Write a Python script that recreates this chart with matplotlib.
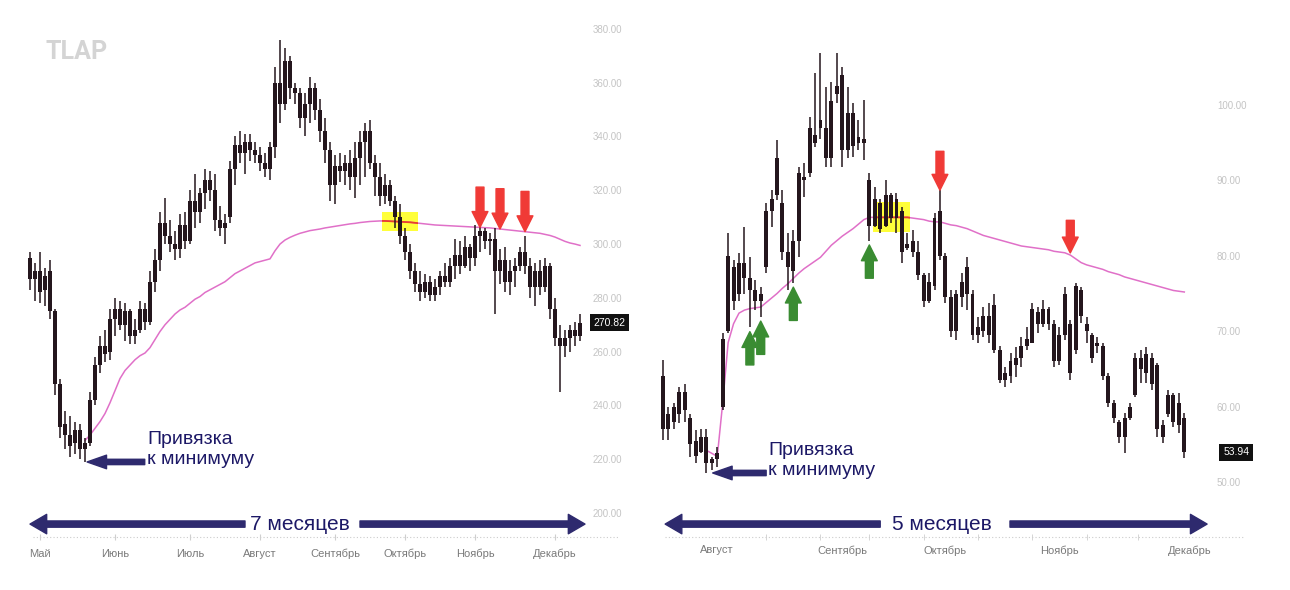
import numpy as np
import matplotlib.pyplot as plt
from matplotlib.patches import Rectangle

plt.rcParams['font.family'] = ['Liberation Sans', 'DejaVu Sans']

# ---- левый график: май - декабрь, дневные свечи ----
left_open = [295, 287, 290, 283, 290, 275, 248, 233, 229, 226,
             231, 224, 226, 242, 255, 262, 260, 272, 276, 270,
             275, 266, 268, 276, 271, 286, 294, 308, 303, 300,
             298, 307, 301, 316, 312, 319, 324, 320, 309, 306,
             310, 328, 337, 334, 338, 335, 333, 330, 328, 336,
             360, 352, 368, 358, 356, 347, 352, 358, 350, 342,
             335, 322, 329, 327, 330, 325, 332, 338, 342, 330,
             325, 318, 322, 316, 310, 303, 297, 290, 285, 282,
             286, 281, 284, 288, 286, 292, 296, 292, 299, 295,
             303, 305, 301, 302, 290, 294, 286, 290, 292, 297,
             292, 284, 290, 284, 292, 276, 265, 262, 265, 268, 266]
left_high = [297, 293, 297, 291, 294, 276, 250, 238, 236, 234,
             233, 228, 245, 258, 266, 268, 276, 280, 279, 278,
             276, 272, 279, 278, 290, 298, 312, 317, 309, 305,
             311, 312, 320, 326, 321, 328, 327, 326, 314, 311,
             331, 340, 342, 341, 341, 338, 336, 334, 338, 366,
             376, 373, 370, 360, 358, 356, 362, 360, 354, 347,
             338, 333, 334, 333, 335, 338, 342, 345, 346, 333,
             330, 326, 324, 318, 315, 306, 300, 293, 290, 289,
             288, 287, 290, 293, 295, 302, 301, 303, 300, 307,
             309, 306, 304, 306, 298, 299, 294, 295, 299, 303,
             295, 293, 294, 295, 293, 280, 270, 268, 270, 271, 274]
left_low = [283, 279, 278, 277, 272, 244, 228, 224, 221, 222,
            220, 219, 225, 240, 252, 256, 257, 266, 268, 264,
            263, 263, 267, 268, 270, 282, 290, 300, 297, 294,
            295, 298, 300, 306, 308, 313, 316, 305, 303, 300,
            308, 322, 330, 326, 331, 330, 327, 325, 324, 332,
            345, 350, 354, 352, 343, 340, 345, 346, 338, 330,
            316, 315, 323, 322, 320, 317, 322, 325, 328, 318,
            314, 315, 314, 306, 300, 294, 287, 282, 279, 280,
            279, 279, 281, 284, 284, 287, 289, 291, 290, 292,
            297, 298, 296, 274, 285, 282, 281, 284, 290, 289,
            280, 277, 281, 282, 272, 262, 245, 258, 260, 262, 264]
left_close = [287, 290, 282, 288, 275, 248, 232, 229, 225, 231,
              224, 226, 242, 255, 262, 259, 272, 276, 270, 275,
              266, 268, 276, 271, 286, 294, 308, 303, 300, 298,
              307, 301, 316, 312, 319, 324, 320, 309, 306, 308,
              328, 337, 334, 338, 335, 333, 330, 328, 336, 360,
              352, 368, 358, 356, 347, 352, 358, 350, 342, 335,
              322, 329, 327, 330, 325, 332, 338, 342, 330, 325,
              318, 322, 316, 310, 303, 297, 290, 285, 282, 286,
              281, 284, 288, 286, 292, 296, 292, 299, 295, 303,
              305, 301, 302, 290, 294, 286, 290, 292, 297, 292,
              284, 290, 284, 292, 276, 265, 262, 265, 268, 266, 270.82]
# VWAP от минимума (начинается со свечи минимума)
left_vwap = [227, 229, 231.5, 234, 237, 241, 245.5, 250, 253, 255,
             257, 258.5, 259.5, 261.5, 264.5, 267.5, 270, 272, 274, 275.5,
             276.5, 278, 279.5, 280.5, 282, 283, 284, 285, 286, 287.5,
             289, 290, 291, 292, 293, 293.5, 294, 294.5, 297.5, 300,
             301.5, 302.5, 303.3, 304, 304.5, 305, 305.3, 305.6, 306, 306.3,
             306.6, 306.9, 307.2, 307.5, 307.7, 308, 308.2, 308.4, 308.5, 308.6,
             308.6, 308.5, 308.4, 308.3, 308.2, 308.1, 307.9, 307.7, 307.5, 307.3,
             307.1, 307, 306.9, 306.8, 306.7, 306.6, 306.5, 306.4, 306.3, 306.2,
             306.1, 306, 305.8, 305.6, 305.4, 305.2, 305, 304.8, 304.6, 304.4,
             304.2, 304, 303.6, 303.2, 302.6, 301.8, 301, 300.4, 300, 299.5]
left_months = ['Май', 'Июнь', 'Июль', 'Август', 'Сентябрь', 'Октябрь', 'Ноябрь', 'Декабрь']
left_month_pos = [2, 17, 32, 46, 61, 75, 89, 105]
left_yticks = [200, 220, 240, 260, 280, 300, 320, 340, 360, 380]
left_red_idx = [90, 94, 99]      # касания VWAP сверху
left_box_idx = 74                # пересечение VWAP (жёлтая рамка)

# ---- правый график: август - декабрь ----
right_open = [64, 59, 58, 59, 62, 58.5, 55.5, 54, 56, 52.5,
              53, 60, 70, 78.5, 75, 79, 77, 75.5, 74, 78.5,
              86, 88, 87, 80.5, 78, 82, 90, 91, 96, 97,
              97, 93, 101.5, 104, 94, 99, 95, 95.5, 90, 84,
              87, 84, 88, 85, 86, 81, 82, 80.5, 77.5, 74,
              76, 86, 80, 74.5, 70, 74.5, 78.5, 75, 69.5, 70,
              72, 73.5, 67.5, 63.5, 64, 65.5, 66.5, 68, 68.5, 72.5,
              71, 73, 71, 66, 69.5, 71, 67.5, 75.5, 71, 69.5,
              68, 68, 64, 60.5, 58, 56, 58.5, 61.5, 66.5, 64.5,
              66.5, 65.5, 56, 59, 61.5, 60.5, 58.5]
right_high = [66.2, 60, 60.5, 62.6, 63, 59, 56.9, 57, 57, 53.3,
              54.6, 69.8, 83, 79.4, 80.4, 83.8, 79.8, 76.8, 75.9, 87,
              88.7, 95.4, 88.7, 83, 83.4, 91.8, 92.3, 98.4, 104.2, 106.9,
              102.4, 103, 106.9, 105, 102.4, 100.3, 98, 100.7, 91, 89.1,
              87.5, 90, 88.3, 88.3, 86.5, 83, 83.4, 82, 77.7, 77.7,
              85.7, 88.7, 80.4, 75.5, 75.5, 77.7, 79.8, 75.5, 71.9, 73.2,
              73.7, 75, 68, 65.3, 67.1, 67.9, 69.2, 70.5, 73.7, 73.2,
              74.1, 73.2, 71.5, 70.5, 75.9, 71.5, 76.4, 75.9, 71.9, 69.8,
              69.2, 68.4, 64.5, 60.9, 58.2, 59.1, 60.5, 67.1, 67.5, 67.9,
              67.1, 65.8, 58.2, 62.2, 61.8, 61.8, 59.1]
right_low = [55.6, 55.6, 57, 57.8, 58, 53.3, 52.5, 53.8, 51.2, 51.6,
             52, 59.5, 69.8, 72.8, 74, 75, 70.5, 72.8, 71.9, 77.7,
             83.8, 87.4, 79.4, 75.5, 76.4, 79.8, 87.8, 90.4, 94.4, 95.5,
             91.8, 91.8, 100.3, 91.8, 93, 93.1, 94, 92.7, 82, 83.8,
             83, 83.8, 84.3, 83, 79, 80.8, 79.8, 76.8, 73.2, 73.8,
             75.5, 79.4, 73.7, 69.2, 68.8, 73.2, 72.8, 68.8, 68.4, 69.2,
             68.4, 67.1, 63.1, 62.6, 63.1, 63.9, 65.3, 67.5, 68.4, 69.8,
             70.5, 70.2, 65.3, 65.5, 68.8, 63.5, 67, 71.1, 68.4, 65.8,
             67.1, 63.5, 60, 57.8, 55.2, 53.8, 58.2, 61.3, 63.1, 63.1,
             62.2, 56, 55.2, 58.6, 57.3, 56.5, 53.2]
right_close = [57, 57, 60, 62, 59.5, 55, 53.5, 56, 52.5, 53,
               53.8, 69, 80, 74, 79, 77, 75.5, 74, 75, 86,
               87.5, 93, 80.5, 78.5, 82, 91, 90.5, 97, 95, 98,
               93, 100.5, 102.5, 94, 99, 94.5, 95.8, 95, 84, 87.5,
               83.5, 88, 85, 87.5, 80.5, 81.5, 80.5, 77.5, 74, 76.5,
               85, 80, 74.5, 70, 75, 76.5, 75, 69.5, 70.5, 72,
               69.5, 67.5, 63.5, 64.5, 66, 66.5, 68, 69, 73, 71,
               73, 71, 66, 69.5, 75, 64.5, 76, 72, 70, 66.5,
               68.5, 64, 60.5, 58.5, 56, 58.5, 60, 66.5, 65, 67,
               63, 57, 57.5, 61.5, 58, 57.5, 53.94]
right_vwap = [54.2, 53.8, 53.4, 60.5, 68.5, 71, 72.4, 72.8, 73, 73.1,
              73.2, 73.8, 74.4, 75, 75.7, 76.3, 77, 77.7, 78.3, 78.8,
              79.3, 79.8, 80.6, 81.4, 82, 82.6, 83.1, 83.6, 84.2, 84.8,
              85.1, 85.1, 85.1, 85.1, 85.1, 85.1, 85.1, 85.1, 85, 84.9,
              84.8, 84.6, 84.5, 84.5, 84.3, 84.1, 84, 83.8, 83.6, 83.3,
              83, 82.7, 82.5, 82.3, 82.1, 81.9, 81.7, 81.5, 81.3, 81.2,
              81.1, 81, 80.9, 80.8, 80.6, 80.5, 80.4, 80.1, 79.6, 79.1,
              78.8, 78.6, 78.4, 78.2, 77.9, 77.7, 77.5, 77.2, 77, 76.8,
              76.6, 76.4, 76.2, 76, 75.8, 75.6, 75.4, 75.3, 75.2]
right_months = ['Август', 'Сентябрь', 'Октябрь', 'Ноябрь', 'Декабрь']
right_month_pos = [10, 33, 52, 73, 97]
right_marks = [19, 29, 38, 48, 58, 68, 78, 87.5, 97]
right_yticks = [50, 60, 70, 80, 90, 100]
right_green_idx = [16, 18, 24, 38]   # отскоки от VWAP снизу
right_red_high_idx = [51]
right_red_vwap_idx = [75]
right_box_idx = 42

CANDLE = '#24161d'
PINK = '#e070c8'
YELLOW = '#ffff3a'
NAVY = '#2e2a6e'
NAVY_TXT = '#1c1866'
RED = '#f03a36'
GREEN = '#3a8c32'

W, H = 1290, 590
fig = plt.figure(figsize=(12.9, 5.9), dpi=100, facecolor='white')


def px_axes(x0, y0, x1, y1):
    return fig.add_axes([x0 / W, 1 - y1 / H, (x1 - x0) / W, (y1 - y0) / H])


def draw_candles(ax, o, h, l, c):
    o, h, l, c = map(np.asarray, (o, h, l, c))
    x = np.arange(len(o))
    ax.vlines(x, l, h, color=CANDLE, lw=1.1, zorder=3)
    hgt = np.maximum(np.abs(c - o), (h.max() - l.min()) * 0.006)
    ax.bar(x, hgt, bottom=np.minimum(o, c), width=0.72, color=CANDLE, lw=0, zorder=3)


def draw_vwap(ax, low, vwap, box_idx, half_w, half_h):
    start = int(np.argmin(low))
    xv = np.arange(start, start + len(vwap))
    ax.plot(xv, vwap, color=PINK, lw=1.1, zorder=2)
    cy = vwap[box_idx - start]
    rect = Rectangle((box_idx - half_w, cy - half_h), 2 * half_w, 2 * half_h,
                     fc=YELLOW, ec='none', zorder=1)
    ax.add_patch(rect)
    red, = ax.plot(xv, vwap, color='#e8402c', lw=1.3, zorder=2.5)
    red.set_clip_path(rect)
    return start


def style_axes(ax, xlim, ylim, yticks, month_pos, months, dots, marks=None):
    ax.set_xlim(*xlim)
    ax.set_ylim(*ylim)
    for s in ax.spines.values():
        s.set_visible(False)
    ax.yaxis.tick_right()
    ax.set_yticks(yticks)
    ax.set_yticklabels([f'{v:.2f}' for v in yticks])
    ax.tick_params(axis='y', length=0, pad=3.5, labelsize=7, labelcolor='#c4c4c4')
    ax.set_xticks(month_pos)
    ax.set_xticklabels(months)
    ax.tick_params(axis='x', direction='inout', length=0 if marks else 5, color='#cfcfcf',
                   pad=6, labelsize=8, labelcolor='#7a7a7a')
    if marks:
        ax.set_xticks(marks, minor=True)
        ax.tick_params(axis='x', which='minor', direction='inout', length=5, color='#cfcfcf')
    ax.plot(dots, [0, 0], transform=ax.get_xaxis_transform(), color='#cccccc', lw=0.8,
            ls=(0, (1, 2)), clip_on=False, zorder=0)


def span_arrow(ax, text, left_end, left_tail, text_x, right_tail, right_end):
    tr = ax.get_xaxis_transform()
    y = 0.025
    props = dict(arrowstyle='simple,head_width=1.4,head_length=1.2,tail_width=0.45',
                 mutation_scale=10, color=NAVY, shrinkA=0, shrinkB=0)
    ax.annotate('', xy=(left_end, y), xytext=(left_tail, y), xycoords=tr, textcoords=tr,
                arrowprops=props, annotation_clip=False)
    ax.annotate('', xy=(right_end, y), xytext=(right_tail, y), xycoords=tr, textcoords=tr,
                arrowprops=props, annotation_clip=False)
    ax.text(text_x, y, text, transform=tr, ha='center', va='center', fontsize=15, color=NAVY_TXT)


def anchor_note(ax, low, tip_shrink):
    i = int(np.argmin(low))
    ax.annotate('', xy=(i, low[i]), xytext=(43, 0), textcoords='offset points',
                arrowprops=dict(arrowstyle='simple,head_width=1.4,head_length=2.0,tail_width=0.55',
                                mutation_scale=7, color=NAVY, shrinkA=0, shrinkB=tip_shrink))
    ax.annotate('Привязка\nк минимуму', xy=(i, low[i]), xytext=(44.6, 9), textcoords='offset points',
                ha='left', va='center', fontsize=14, color=NAVY_TXT)


def vert_arrow(ax, x, y, length, color, shrink):
    ax.annotate('', xy=(x, y), xytext=(0, length), textcoords='offset points',
                arrowprops=dict(arrowstyle='simple,head_width=1.9,head_length=1.9,tail_width=0.95',
                                mutation_scale=6, color=color, shrinkA=0, shrinkB=shrink))


# ---- левый ----
ax1 = px_axes(20, 20, 588, 537)
draw_candles(ax1, left_open, left_high, left_low, left_close)
s1 = draw_vwap(ax1, left_low, left_vwap, left_box_idx, 3.6, 3.5)
style_axes(ax1, (-2, 111.6), (191.1, 383.3), left_yticks, left_month_pos, left_months, [0.6, 117.8])
for i in left_red_idx:
    vert_arrow(ax1, i, left_vwap[i - s1], 29, RED, 0)
anchor_note(ax1, left_low, 1.5)
span_arrow(ax1, '7 месяцев', 0, 43, 54, 66, 111)
ax1.annotate(f'{left_close[-1]:.2f}', xy=(1, left_close[-1]), xycoords=('axes fraction', 'data'),
             xytext=(4, 0), textcoords='offset points', ha='left', va='center', color='white',
             fontsize=7.5, bbox=dict(boxstyle='square,pad=0.35', fc='#111111', ec='none'))

# ---- правый ----
ax2 = px_axes(655, 20, 1212, 537)
draw_candles(ax2, right_open, right_high, right_low, right_close)
s2 = draw_vwap(ax2, right_low, right_vwap, right_box_idx, 3.4, 2.0)
style_axes(ax2, (-1.47, 101.1), (42.71, 111.27), right_yticks, right_month_pos, right_months,
           [0.4, 107], right_marks)
for i in right_green_idx:
    vert_arrow(ax2, i, right_low[i], -27, GREEN, 3)
for i in right_red_high_idx:
    vert_arrow(ax2, i, right_high[i], 28, RED, 0)
for i in right_red_vwap_idx:
    vert_arrow(ax2, i, right_vwap[i - s2], 25, RED, 1.5)
anchor_note(ax2, right_low, 4.5)
span_arrow(ax2, '5 месяцев', 0.4, 40, 51.4, 63.9, 100.2)
ax2.annotate(f'{right_close[-1]:.2f}', xy=(1, right_close[-1]), xycoords=('axes fraction', 'data'),
             xytext=(8, 0), textcoords='offset points', ha='left', va='center', color='white',
             fontsize=7.5, bbox=dict(boxstyle='square,pad=0.35', fc='#111111', ec='none'))

fig.text(77 / W, 1 - 52 / H, 'TLAP', ha='center', va='center', fontsize=18,
         fontweight='bold', family=['Roboto', 'DejaVu Sans'], color='#d4d4d4')

fig.savefig('out.png', dpi=100, facecolor='white')
